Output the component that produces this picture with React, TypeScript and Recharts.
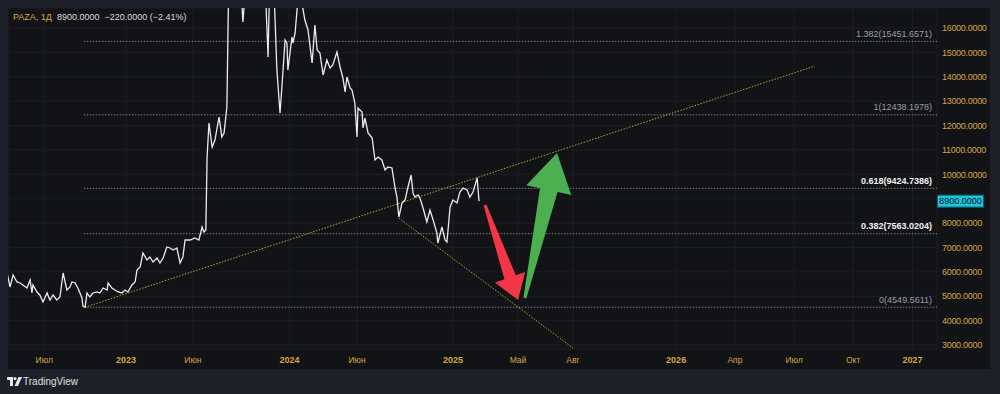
import React from "react"
import { LineChart, Line, XAxis, YAxis, CartesianGrid, ReferenceLine } from "recharts"

// time axis position (TradingView bar slots, ~weeks from Jan 2022) and daily close
const weeks = [
  14.2, 15.1, 16.1, 17.3, 18.3, 19.2, 20.5, 21.5, 22.1, 22.4,
  23.7, 24.6, 25.6, 26.9, 27.8, 28.8, 30.0, 31.0, 32.0, 33.2,
  34.2, 34.8, 35.8, 36.7, 38.0, 38.3, 39.0, 39.6, 40.5, 41.5,
  42.8, 43.7, 44.7, 46.0, 46.3, 47.5, 48.5, 49.5, 50.7, 51.7,
  52.6, 53.9, 54.9, 55.5, 56.5, 57.4, 58.7, 59.6, 60.6, 61.9,
  62.8, 63.8, 65.0, 66.0, 67.0, 68.2, 69.2, 70.1, 70.8, 72.4,
  73.9, 75.2, 76.2, 76.8, 77.4, 77.8, 78.4, 79.4, 80.3, 81.6,
  82.5, 83.2, 84.1, 84.8, 86.7, 88.3, 89.2, 90.2, 92.1, 94.0,
  95.9, 97.2, 97.8, 99.1, 100.0, 101.0, 101.6, 102.6, 103.2, 103.5,
  104.8, 105.1, 105.8, 106.7, 108.0, 108.9, 109.9, 111.2, 112.1, 112.8,
  113.7, 114.7, 115.9, 116.9, 117.8, 119.1, 120.1, 121.0, 121.7, 122.3,
  123.3, 123.9, 124.8, 125.5, 125.8, 126.4, 127.1, 127.4, 128.0, 129.0,
  130.3, 131.2, 132.2, 133.4, 134.4, 135.3, 136.6, 137.6, 138.2, 138.8,
  139.8, 140.8, 141.7, 142.7, 143.3, 143.9, 144.9, 145.5, 146.5, 147.7,
  148.7, 149.7, 150.9, 151.2, 152.5, 153.5, 154.1, 155.1, 156.0, 157.3,
  158.2, 159.2, 160.5, 161.4, 162.4, 163.7, 164.3,
]
const close = [
  5953, 5379, 5871, 5584, 5543, 5461, 5338, 5666, 5133, 5461,
  5174, 5051, 4763, 5133, 4845, 5051, 4845, 4968, 5953, 5256,
  5379, 5584, 5543, 5338, 4927, 4600, 4550, 5133, 4968, 5133,
  5174, 5133, 5338, 5256, 5543, 5338, 5256, 5174, 5133, 5256,
  5174, 5461, 5584, 6076, 6199, 6773, 6486, 6609, 6404, 6568,
  6363, 6568, 7019, 6978, 6896, 6978, 6363, 6609, 7306, 7306,
  7388, 7306, 7839, 7634, 7716, 10710, 12104, 11120, 11407, 12350,
  11530, 11694, 12760, 19000, 19500, 18200, 16246, 18000, 19800, 20500,
  19000, 14811, 18500, 17500, 14278, 12514, 13580, 15508, 15385, 14278,
  15631, 15385, 15795, 17200, 17000, 16328, 15918, 14565, 16123, 15098,
  14975, 14073, 14688, 14360, 14483, 15016, 14401, 13950, 13375, 13991,
  13539, 13457, 12924, 11530, 12719, 12637, 12555, 11899, 12309, 11694,
  11489, 10587, 10710, 10587, 10177, 10300, 10259, 9438, 9069, 8249,
  8823, 8946, 9480, 9972, 9233, 9069, 9151, 9028, 8618, 8044,
  8536, 8126, 7593, 7183, 7839, 7306, 7224, 8659, 8946, 8823,
  9275, 9438, 9357, 9069, 9275, 9849, 8900,
]

const xTicks = [26, 52, 73.3, 104, 125.5, 156, 176.7, 194.2, 227, 245.7, 264.5, 283.3, 302.2]
const xTickLabels = ["Июл", "2023", "Июн", "2024", "Июн", "2025", "Май", "Авг", "2026", "Апр", "Июл", "Окт", "2027"]
const yTicks = [3000, 4000, 5000, 6000, 7000, 8000, 9000, 10000, 11000, 12000, 13000, 14000, 15000, 16000]

const fibRatios = ["1.382", "1", "0.618", "0.382", "0"]
const fibLevels = [15451.6571, 12438.1978, 9424.7386, 7563.0204, 4549.5611]
const fibStart = 38.6

const trendStart = [{ x: 39, y: 4550 }, { x: 138.8, y: 8200 }]
const trendEnd = [{ x: 271.1, y: 14441 }, { x: 194.2, y: 2877 }]

const arrowTail = [{ x: 166.2, y: 8741 }, { x: 178.9, y: 4927 }]
const arrowTip = [{ x: 176.7, y: 4845 }, { x: 189.1, y: 10874 }]

const lastClose = 8900

const X_DOMAIN = [14.47, 309.98]
const Y_DOMAIN = [2836, 16820]
const GOLD = "#d4a63e"
const FONT = "'Liberation Sans', Arial, sans-serif"

const data = weeks.map((w, i) => ({ w, close: close[i] }))

const arrowShapes = [
  { color: "#f23645", tailW: 3, shaftW: 12, headW: 32, headLen: 24 },
  { color: "#4caf50", tailW: 3, shaftW: 18, headW: 46, headLen: 38 },
]

function makeArrow(s: typeof arrowShapes[number]) {
  return (p: any) => {
    const { x1, y1, x2, y2 } = p
    const len = Math.hypot(x2 - x1, y2 - y1) || 1
    const ux = (x2 - x1) / len
    const uy = (y2 - y1) / len
    const nx = -uy
    const ny = ux
    const hx = x2 - ux * s.headLen
    const hy = y2 - uy * s.headLen
    const pts = [
      [x1 + (nx * s.tailW) / 2, y1 + (ny * s.tailW) / 2],
      [hx + (nx * s.shaftW) / 2, hy + (ny * s.shaftW) / 2],
      [hx + (nx * s.headW) / 2, hy + (ny * s.headW) / 2],
      [x2, y2],
      [hx - (nx * s.headW) / 2, hy - (ny * s.headW) / 2],
      [hx - (nx * s.shaftW) / 2, hy - (ny * s.shaftW) / 2],
      [x1 - (nx * s.tailW) / 2, y1 - (ny * s.tailW) / 2],
    ]
    return <polygon points={pts.map((q) => q.join(",")).join(" ")} fill={s.color} />
  }
}

function makeFib(label: string, bright: boolean) {
  return (p: any) => {
    const right = Math.max(p.x1, p.x2)
    return (
      <g>
        <line x1={p.x1} y1={p.y1} x2={p.x2} y2={p.y2} stroke="#7c7f88" strokeWidth={1} strokeDasharray="1.5 1.5" />
        <text
          x={right - 5}
          y={p.y1 - 4.5}
          textAnchor="end"
          fill={bright ? "#f0f0f0" : "#9a9da6"}
          fontSize={9}
          fontWeight={bright ? 700 : 400}
          fontFamily={FONT}
        >
          {label}({fibLevels[fibRatios.indexOf(label)].toFixed(4)})
        </text>
      </g>
    )
  }
}

const priceTag = (p: any) => {
  const right = Math.max(p.x1, p.x2)
  return (
    <g>
      <rect x={right + 0.5} y={p.y1 - 6} width={46} height={12} fill="#16c7de" stroke="#0b5f6b" strokeWidth={1} />
      <text x={right + 23.5} y={p.y1 + 3.2} textAnchor="middle" fill="#0c0e12" fontSize={9} fontFamily={FONT}>
        {lastClose.toFixed(4)}
      </text>
    </g>
  )
}

// the last-price tag hides the axis label it sits on, as in TradingView
const YTick = (p: any) => {
  const v = Number(p.payload.value)
  if (Math.abs(v - lastClose) < 400) return <g />
  return (
    <text x={p.x} y={p.y + 3.2} fill={GOLD} fontSize={9} fontFamily={FONT} letterSpacing={-0.3}>
      {v.toFixed(4)}
    </text>
  )
}

const XTick = (p: any) => {
  const idx = xTicks.indexOf(p.payload.value)
  const label = xTickLabels[idx] ?? ""
  const isYear = /^\d+$/.test(label)
  return (
    <text x={p.x} y={p.y + 14} textAnchor="middle" fill={GOLD} fontSize={isYear ? 9 : 8.5} fontWeight={isYear ? 700 : 400} fontFamily={FONT}>
      {label}
    </text>
  )
}

function Logo() {
  return (
    <svg width={15} height={9} viewBox="0 0 15 9" style={{ position: "absolute", left: 7, top: 377 }}>
      <path d="M0 0H6V9H3V3H0Z" fill="#e6e6e6" />
      <circle cx={8} cy={1.6} r={1.6} fill="#e6e6e6" />
      <path d="M11.5 0H15L11 9H7.5Z" fill="#e6e6e6" />
    </svg>
  )
}

export default function App() {
  return (
    <div style={{ position: "relative", width: 1000, height: 394, background: "#1d2029", overflow: "hidden", fontFamily: FONT }}>
      <style>{"body{margin:0;background:#1d2029}"}</style>
      <div style={{ position: "absolute", left: 8, top: 8, width: 982, height: 361, background: "#121317" }}>
        <LineChart width={982} height={361} data={data} margin={{ top: 0, right: 0, bottom: 0, left: 0 }}>
          <CartesianGrid stroke="#1c1e25" strokeWidth={1} />
          <XAxis
            dataKey="w"
            type="number"
            domain={X_DOMAIN}
            allowDataOverflow
            ticks={xTicks}
            tick={<XTick />}
            tickLine={false}
            axisLine={false}
            tickSize={0}
            tickMargin={0}
            height={20}
            interval={0}
          />
          <YAxis
            orientation="right"
            type="number"
            domain={Y_DOMAIN}
            allowDataOverflow
            ticks={yTicks}
            tick={<YTick />}
            tickLine={false}
            axisLine={false}
            tickSize={0}
            tickMargin={5}
            width={53}
            interval={0}
          />
          {fibLevels.map((lv, i) => (
            <ReferenceLine
              key={"fib" + i}
              segment={[{ x: fibStart, y: lv }, { x: X_DOMAIN[1], y: lv }]}
              ifOverflow="visible"
              shape={makeFib(fibRatios[i], fibRatios[i] === "0.618" || fibRatios[i] === "0.382")}
            />
          ))}
          {trendStart.map((s, i) => (
            <ReferenceLine
              key={"trend" + i}
              segment={[s, trendEnd[i]]}
              ifOverflow="visible"
              stroke="#b5a42a"
              strokeWidth={1}
              strokeDasharray="1.5 1.5"
            />
          ))}
          <Line
            type="linear"
            dataKey="close"
            stroke="#ececec"
            strokeWidth={1.3}
            dot={false}
            activeDot={false}
            isAnimationActive={false}
          />
          {arrowTail.map((t, i) => (
            <ReferenceLine key={"arrow" + i} segment={[t, arrowTip[i]]} ifOverflow="visible" shape={makeArrow(arrowShapes[i])} />
          ))}
          <ReferenceLine y={lastClose} ifOverflow="visible" shape={priceTag} />
        </LineChart>
        <div style={{ position: "absolute", left: 5, top: 4, fontSize: 9, lineHeight: "11px", whiteSpace: "pre", color: "#dcdcdc" }}>
          <span style={{ color: GOLD }}>PAZA, 1Д</span>
          {"  8900.0000  −220.0000 (−2.41%)"}
        </div>
      </div>
      <Logo />
      <div style={{ position: "absolute", left: 23, top: 376, fontSize: 10, lineHeight: "12px", color: "#e0e0e0" }}>TradingView</div>
    </div>
  )
}
